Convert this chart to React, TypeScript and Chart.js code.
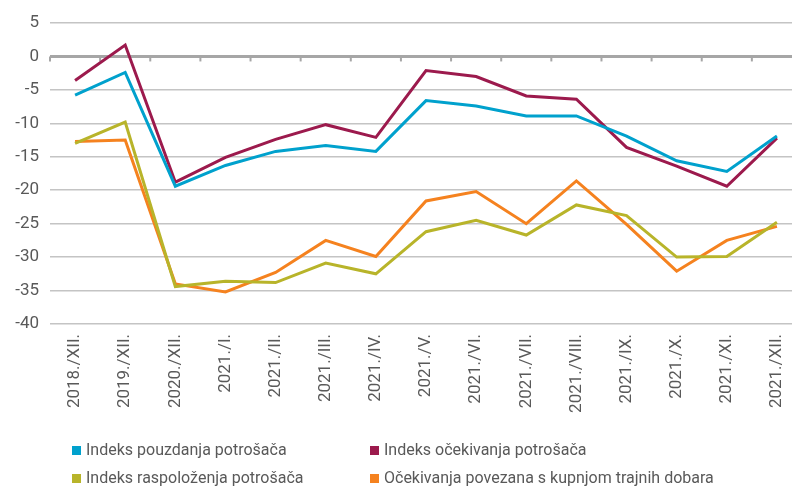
import React, { useEffect, useRef } from "react";
import { Chart, registerables } from "chart.js";

Chart.register(...registerables);

const categories = [
  "2018./XII.", "2019./XII.", "2020./XII.", "2021./I.", "2021./II.", "2021./III.",
  "2021./IV.", "2021./V.", "2021./VI.", "2021./VII.", "2021./VIII.", "2021./IX.",
  "2021./X.", "2021./XI.", "2021./XII.",
];

const pouzdanja = [-5.8, -2.4, -19.4, -16.3, -14.2, -13.3, -14.2, -6.6, -7.4, -8.9, -8.9, -11.9, -15.6, -17.2, -11.9];
const ocekivanja = [-3.6, 1.7, -18.8, -15.1, -12.4, -10.2, -12.1, -2.1, -3.0, -5.9, -6.4, -13.6, -16.4, -19.4, -12.2];
const raspolozenja = [-13.0, -9.8, -34.4, -33.6, -33.8, -30.9, -32.5, -26.2, -24.5, -26.7, -22.2, -23.8, -30.0, -29.9, -24.8];
const trajnaDobra = [-12.7, -12.5, -34.0, -35.2, -32.3, -27.5, -29.9, -21.6, -20.2, -25.0, -18.6, -25.1, -32.1, -27.5, -25.4];

const seriesLabels = [
  "Indeks pouzdanja potrošača",
  "Indeks očekivanja potrošača",
  "Indeks raspoloženja potrošača",
  "Očekivanja povezana s kupnjom trajnih dobara",
];
const seriesColors = ["#00a1cd", "#9c1a4d", "#b8b42a", "#f5821f"];
const seriesData = [pouzdanja, ocekivanja, raspolozenja, trajnaDobra];

const yMin = -40;
const yMax = 5;
const yStep = 5;

const FONT = "Roboto, 'DejaVu Sans', sans-serif";
const TEXT = "#595959";

const zeroTicks = {
  id: "zeroTicks",
  beforeDatasetsDraw(chart: any) {
    const xs = chart.scales.x;
    const ys = chart.scales.y;
    const y0 = ys.getPixelForValue(0);
    const n = categories.length;
    const step = n > 1 ? xs.getPixelForValue(1) - xs.getPixelForValue(0) : 0;
    const ctx = chart.ctx;
    ctx.save();
    ctx.strokeStyle = "#a6a6a6";
    ctx.lineWidth = 2;
    for (let i = 0; i <= n; i++) {
      const x = (i < n ? xs.getPixelForValue(i) : xs.getPixelForValue(n - 1) + step) - step / 2;
      ctx.beginPath();
      ctx.moveTo(x, y0);
      ctx.lineTo(x, y0 + 5);
      ctx.stroke();
    }
    ctx.restore();
  },
};

export default function App() {
  const ref = useRef<HTMLCanvasElement>(null);

  useEffect(() => {
    if (!ref.current) return;
    const chart = new Chart(ref.current, {
      type: "line",
      data: {
        labels: categories,
        datasets: seriesData.map((d, i) => ({
          label: seriesLabels[i],
          data: d,
          borderColor: seriesColors[i],
          backgroundColor: seriesColors[i],
          borderWidth: 3,
          pointRadius: 0,
          tension: 0,
          fill: false,
        })),
      },
      options: {
        responsive: false,
        animation: false,
        layout: { padding: { top: 23, right: 10, left: 0, bottom: 0 } },
        plugins: { legend: { display: false }, tooltip: { enabled: false } },
        scales: {
          x: {
            offset: true,
            grid: { display: false, drawTicks: false },
            border: { display: false },
            ticks: {
              minRotation: 90,
              maxRotation: 90,
              autoSkip: false,
              padding: 10,
              color: TEXT,
              font: { family: FONT, size: 17 },
            },
            afterFit: (s: any) => { s.height = 162; },
          },
          y: {
            min: yMin,
            max: yMax,
            border: { display: false },
            grid: {
              drawTicks: false,
              color: (c: any) => (c.tick && c.tick.value === 0 ? "#a6a6a6" : "#c4c4c4"),
              lineWidth: (c: any) => (c.tick && c.tick.value === 0 ? 3 : 1.5),
            },
            ticks: {
              stepSize: yStep,
              padding: 11,
              color: TEXT,
              font: { family: FONT, size: 17 },
            },
            afterFit: (s: any) => { s.width = 50; },
          },
        },
      },
      plugins: [zeroTicks],
    });
    return () => chart.destroy();
  }, []);

  const legendPos = [
    { left: 72, top: 441 },
    { left: 370, top: 441 },
    { left: 72, top: 469 },
    { left: 370, top: 469 },
  ];

  return (
    <div style={{ position: "fixed", left: 0, top: 0, width: 792, height: 486, overflow: "hidden", background: "#fff" }}>
      <canvas ref={ref} width={812} height={486} style={{ position: "absolute", left: 0, top: 0, width: 812, height: 486 }} />
      {seriesLabels.map((lab, i) => (
        <div
          key={lab}
          style={{
            position: "absolute",
            left: legendPos[i].left,
            top: legendPos[i].top,
            display: "flex",
            alignItems: "center",
            whiteSpace: "nowrap",
            fontFamily: FONT,
            fontSize: 16,
            color: TEXT,
            lineHeight: "18px",
          }}
        >
          <span style={{ display: "inline-block", width: 9, height: 9, background: seriesColors[i], marginRight: 5 }} />
          <span>{lab}</span>
        </div>
      ))}
    </div>
  );
}
